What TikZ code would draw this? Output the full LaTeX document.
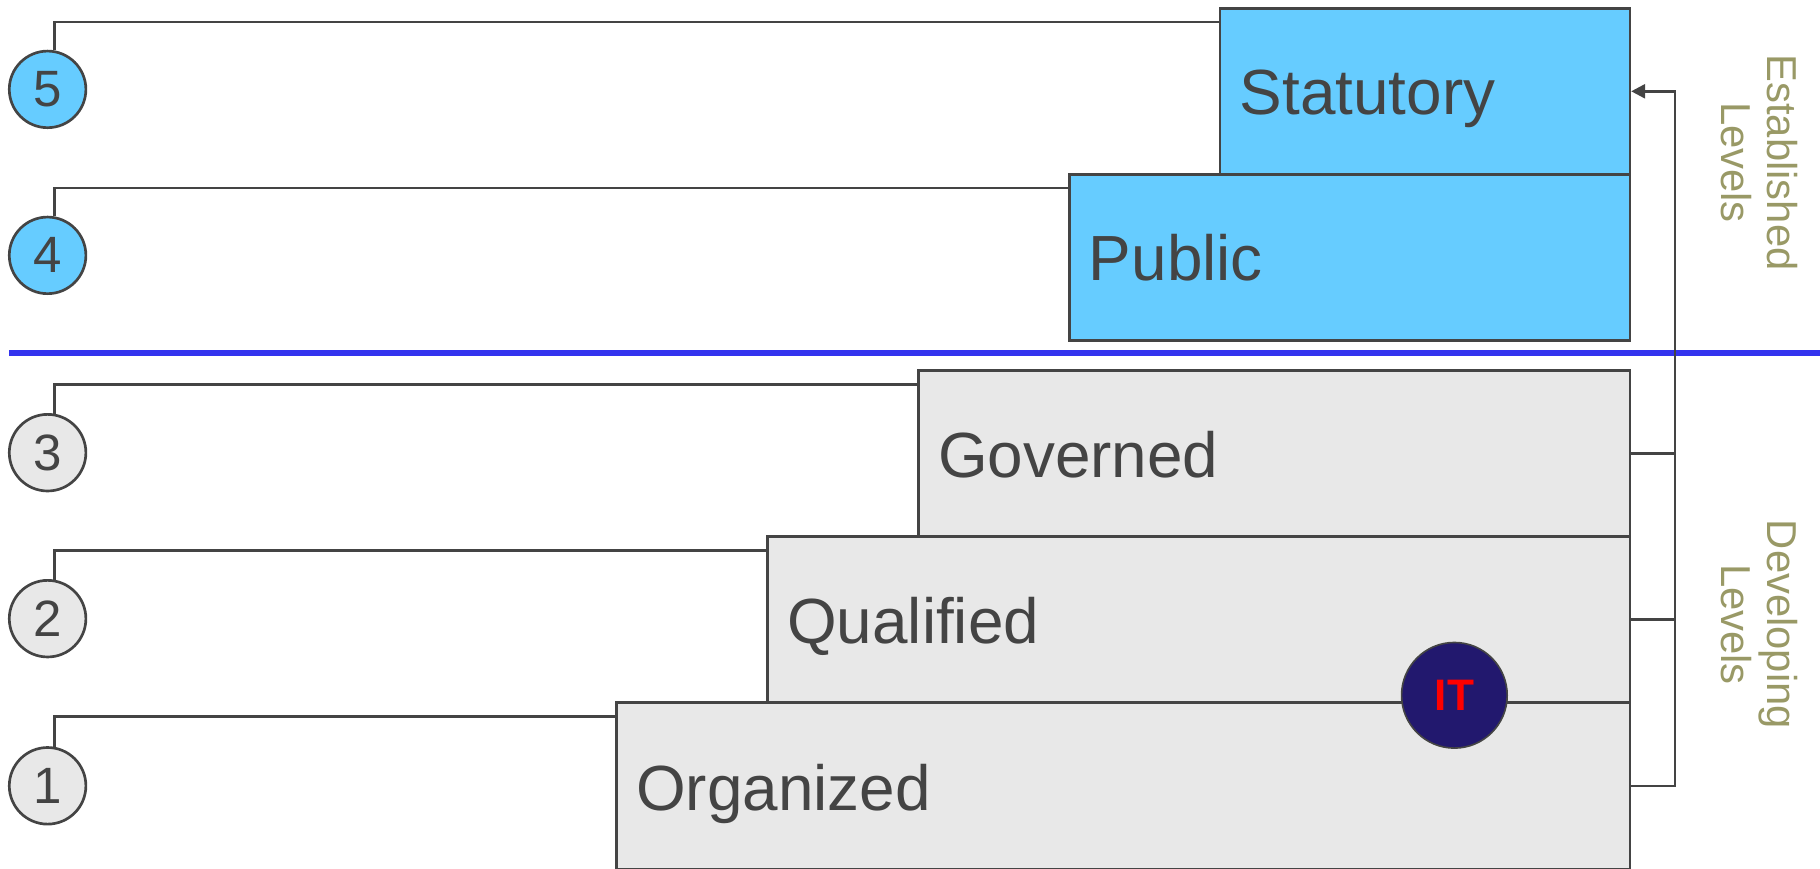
\documentclass[tikz,border=0pt]{standalone}
\usepackage{fontspec}
\setmainfont{Liberation Sans}
\usetikzlibrary{calc,arrows.meta}
\definecolor{ink}{HTML}{444444}
\definecolor{skyfill}{HTML}{66CCFF}
\definecolor{greyfill}{HTML}{E8E8E8}
\definecolor{olive}{HTML}{999966}
\definecolor{divider}{HTML}{3333EE}
\definecolor{navy}{HTML}{22186E}
\begin{document}
\begin{tikzpicture}[x=1pt,y=-1pt,
  lvlbox/.style={draw=ink, line width=2.3pt, rectangle, anchor=north west, minimum height=143pt, inner sep=0pt},
  lvltext/.style={anchor=base west, text=ink, inner sep=0pt, font=\fontsize{55}{60}\selectfont},
  numcirc/.style={circle, draw=ink, line width=2.3pt, minimum size=66pt, inner sep=0pt, text=ink, font=\fontsize{44}{48}\selectfont},
  conn/.style={draw=ink, line width=2.3pt},
  sidetext/.style={rotate=-90, align=center, text=olive, font=\fontsize{36}{40}\selectfont},
]
\useasboundingbox (0,0) rectangle (1568,748);

% boxes
\node[lvlbox, fill=skyfill, minimum width=353pt] (stat) at (1050,6) {};
\node[lvlbox, fill=skyfill, minimum width=483pt] (pub) at (920,149) {};
\node[lvlbox, fill=greyfill, minimum width=613pt] (gov) at (790,318) {};
\node[lvlbox, fill=greyfill, minimum width=743pt] (qual) at (660,461) {};
\node[lvlbox, fill=greyfill, minimum width=873pt, minimum height=144pt] (org) at (530,604) {};

% box labels
\node[lvltext] (tstat) at ($(stat.west)+(18,20)$) {Statutory};
\node[lvltext] (tpub) at ($(pub.west)+(18,20)$) {Public};
\node[lvltext] (tgov) at ($(gov.west)+(18,21)$) {Governed};
\node[lvltext] (tqual) at ($(qual.west)+(18,21)$) {Qualified};
\node[lvltext] (torg) at ($(org.west)+(18,21)$) {Organized};

% numbered circles
\node[numcirc, fill=skyfill] (c5) at (41,77) {5};
\node[numcirc, fill=skyfill] (c4) at (41,220) {4};
\node[numcirc, fill=greyfill] (c3) at (41,390) {3};
\node[numcirc, fill=greyfill] (c2) at (41,533) {2};
\node[numcirc, fill=greyfill] (c1) at (41,677) {1};

% connectors circle -> box
\draw[conn] (c5.80) |- ($(stat.north west)+(0,13)$);
\draw[conn] (c4.80) |- ($(pub.north west)+(0,13)$);
\draw[conn] (c3.80) |- ($(gov.north west)+(0,13)$);
\draw[conn] (c2.80) |- ($(qual.north west)+(0,13)$);
\draw[conn] (c1.80) |- ($(org.north west)+(0,13)$);

% divider
\coordinate (dl) at (8,304);
\coordinate (dr) at (1568,304);
\draw[divider, line width=5.5pt] (dl) -- (dr);

% bracket with arrow
\coordinate (bx) at (1443,0);
\draw[conn] (gov.east) -- (bx |- gov.east);
\draw[conn] (qual.east) -- (bx |- qual.east);
\draw[conn, -{Triangle[length=12pt,width=12pt]}] (org.east) -| (bx |- stat.east) -- (stat.east);

% IT circle
\node[circle, draw=ink, line width=1.4pt, fill=navy, minimum size=91pt, inner sep=0pt, text=red, font=\fontsize{38}{40}\selectfont\bfseries] (it) at (1253,599) {IT};

% side labels
\node[sidetext] (estab) at (1516,140) {Established\\Levels};
\node[sidetext] (devel) at (1516,538) {Developing\\Levels};
\end{tikzpicture}
\end{document}
